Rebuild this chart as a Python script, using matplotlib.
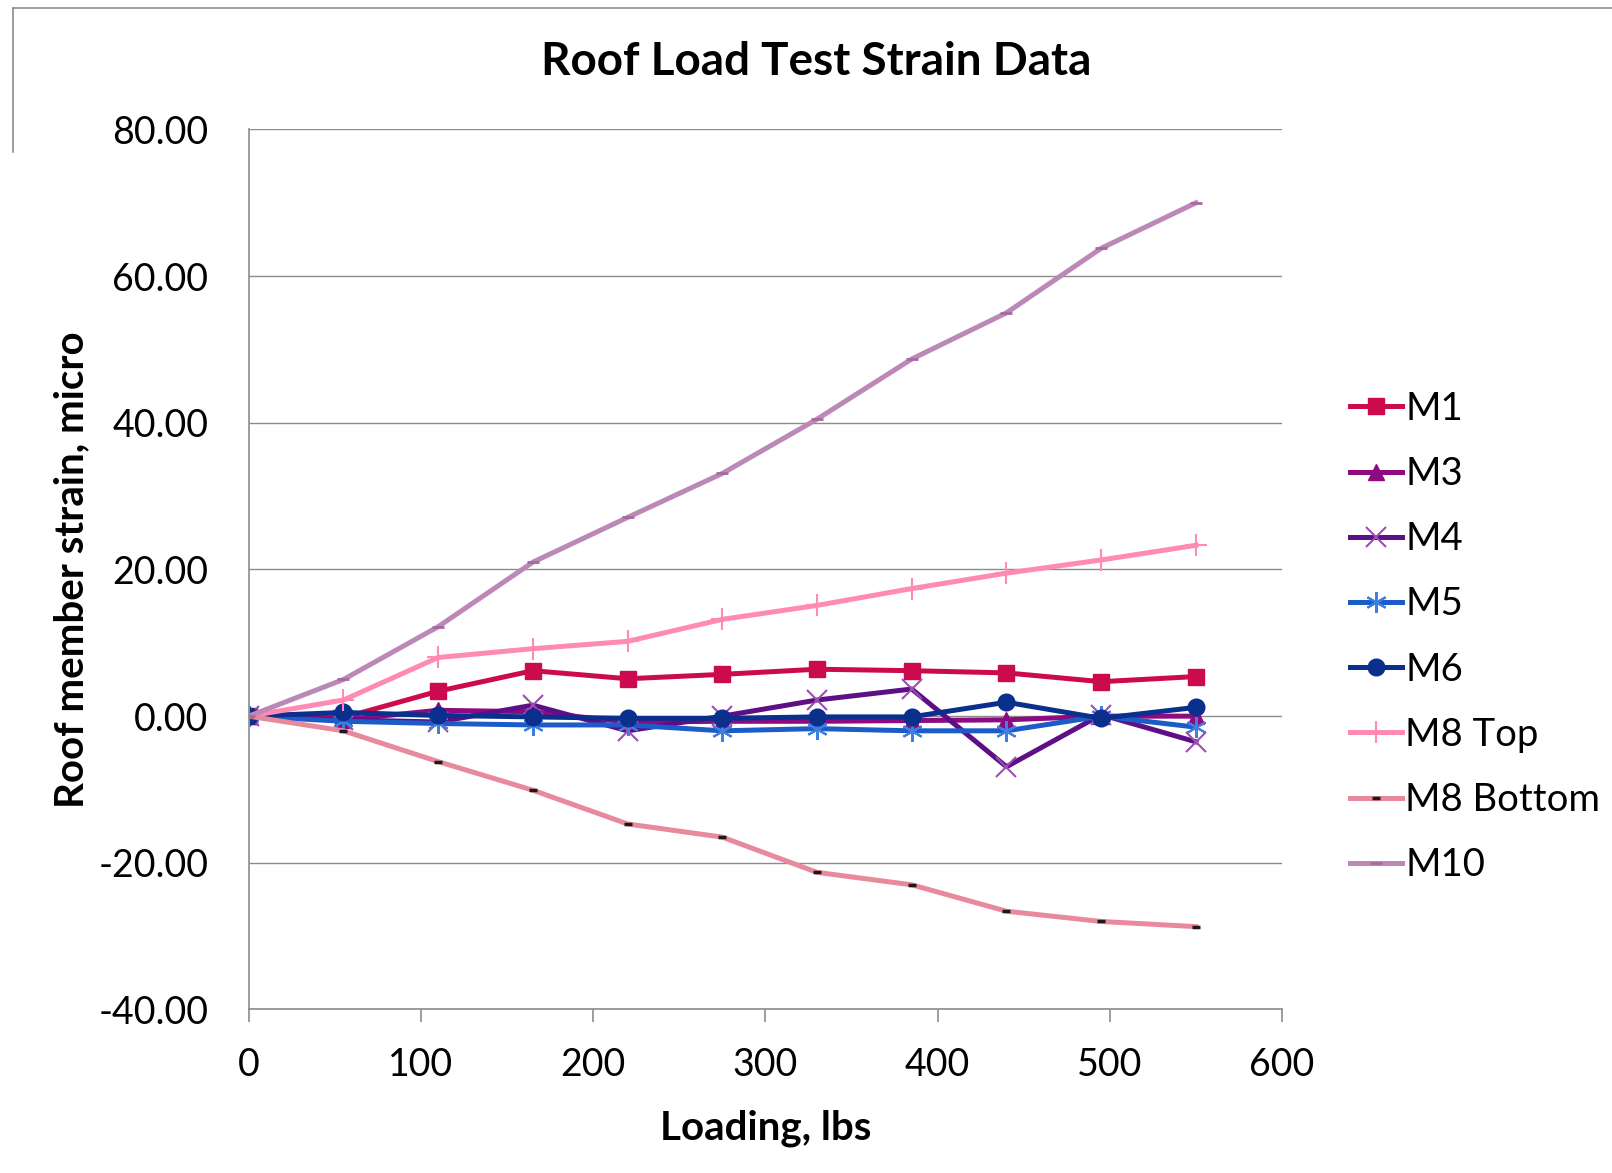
import matplotlib
matplotlib.use("Agg")
import matplotlib.pyplot as plt
from matplotlib.lines import Line2D

plt.rcParams['font.family'] = ['Lato', 'DejaVu Sans']
plt.rcParams['axes.unicode_minus'] = False

loading = [0, 55, 110, 165, 220, 275, 330, 385, 440, 495, 550]
m1 = [0, -0.2, 3.4, 6.2, 5.1, 5.7, 6.4, 6.2, 5.9, 4.7, 5.4]
m3 = [0, -0.5, 0.8, 0.6, -0.8, -0.7, -0.7, -0.6, -0.5, 0.0, 0.0]
m4 = [0, -0.5, -0.8, 1.5, -2.0, 0.0, 2.2, 3.7, -6.9, 0.2, -3.5]
m5 = [0, -0.7, -1.0, -1.2, -1.2, -2.0, -1.7, -2.0, -2.0, 0.0, -1.5]
m6 = [0, 0.5, 0.1, -0.1, -0.3, -0.3, -0.1, -0.1, 1.9, -0.3, 1.2]
m8_top = [0, 2.2, 8.0, 9.2, 10.2, 13.2, 15.1, 17.4, 19.5, 21.3, 23.3]
m8_bottom = [0, -2.0, -6.2, -10.1, -14.7, -16.5, -21.3, -23.0, -26.6, -28.0, -28.7]
m10 = [0, 5.0, 12.2, 21.0, 27.1, 33.1, 40.5, 48.7, 55.0, 63.8, 70.0]

y_ticks = [-40, -20, 0, 20, 40, 60, 80]
y_tick_labels = ["-40.00", "-20.00", "0.00", "20.00", "40.00", "60.00", "80.00"]
x_ticks = [0, 100, 200, 300, 400, 500, 600]
x_tick_labels = ["0", "100", "200", "300", "400", "500", "600"]

fig = plt.figure(figsize=(16.12, 11.73), dpi=100)
ax = fig.add_axes([0.1543, 0.1394, 0.7953 - 0.1543, 0.8896 - 0.1394])

lw = 3.6
ax.plot(loading, m1, color='#CC0A4E', lw=lw, marker='s', ms=12, mec='#CC0A4E', label='M1')
ax.plot(loading, m3, color='#8E0A80', lw=lw, marker='^', ms=11, mec='#8E0A80', label='M3')
ax.plot(loading, m4, color='#5E0E86', lw=lw, marker='x', ms=14, mew=1.5, mec='#9A4FB0', label='M4')
ax.plot(loading, m5, color='#1C5CC8', lw=lw, marker=(6, 2, 0), ms=15, mew=1.5, mec='#3F7FE0', label='M5')
ax.plot(loading, m6, color='#0A2F8C', lw=lw, marker='o', ms=12, mec='#0A2F8C', label='M6')
ax.plot(loading, m8_top, color='#FF8AB2', lw=lw, marker='+', ms=16, mew=1.5, mec='#FF8AB2', label='M8 Top')
ax.plot(loading, m8_bottom, color='#E8899C', lw=lw, marker='_', ms=6, mew=2.5, mec='#1a1a1a', label='M8 Bottom')
ax.plot(loading, m10, color='#BC88B8', lw=lw, marker='_', ms=8, mew=2, mec='#A66AA2', label='M10')

ax.set_xlim(0, 600)
ax.set_ylim(-40, 80)
ax.set_yticks(y_ticks)
ax.set_yticklabels(y_tick_labels)
ax.set_xticks(x_ticks)
ax.set_xticklabels(x_tick_labels)

ax.grid(axis='y', color='#8c8c8c', lw=1.0)
ax.set_axisbelow(True)
for s in ['top', 'right']:
    ax.spines[s].set_visible(False)
for s in ['left', 'bottom']:
    ax.spines[s].set_color('#8c8c8c')
    ax.spines[s].set_linewidth(1.2)

ax.tick_params(axis='y', length=0, pad=29, labelsize=27)
ax.tick_params(axis='x', length=9, width=1.2, color='#8c8c8c', direction='out', pad=18, labelsize=27)

ax.set_xlabel('Loading, lbs', fontsize=29, fontweight='bold', labelpad=19)
ax.set_ylabel('Roof member strain, micro', fontsize=29, fontweight='bold', labelpad=6)

fig.text(0.5065, 0.947, 'Roof Load Test Strain Data', fontsize=33, fontweight='bold',
         ha='center', va='center')

leg = ax.legend(loc='center left', bbox_to_anchor=(1350 / 1612, 1 - 637 / 1173),
                bbox_transform=fig.transFigure, frameon=False, fontsize=27.5,
                handlelength=1.35, handletextpad=0.1, labelspacing=0.765,
                borderpad=0, borderaxespad=0)

# outer chart border fragments
fig.add_artist(Line2D([13 / 1612, 1.0], [1 - 8 / 1173, 1 - 8 / 1173], color='#8c8c8c', lw=1.2,
                      transform=fig.transFigure))
fig.add_artist(Line2D([13 / 1612, 13 / 1612], [1 - 8 / 1173, 1 - 152 / 1173], color='#8c8c8c', lw=1.2,
                      transform=fig.transFigure))

fig.savefig('out.png', dpi=100)
